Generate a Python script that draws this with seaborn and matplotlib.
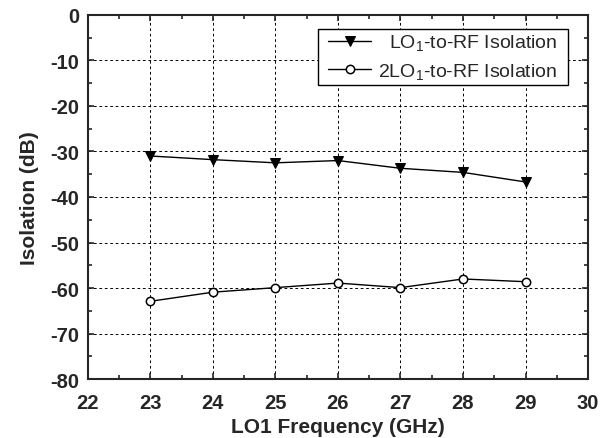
import numpy as np
import pandas as pd
import seaborn as sns
import matplotlib.pyplot as plt
from matplotlib.ticker import MultipleLocator
from matplotlib.offsetbox import DrawingArea

freq = [23, 24, 25, 26, 27, 28, 29]
lo1_rf = [-31.0, -31.8, -32.5, -32.0, -33.7, -34.6, -36.7]
lo2_rf = [-62.9, -60.9, -59.9, -58.9, -59.9, -58.0, -58.6]

sns.set_style("ticks")
plt.rcParams['font.family'] = ['Liberation Sans', 'DejaVu Sans']
plt.rcParams['mathtext.fontset'] = 'custom'
plt.rcParams['mathtext.rm'] = 'Liberation Sans'
plt.rcParams['axes.unicode_minus'] = False

fig = plt.figure(figsize=(6.1, 4.39), dpi=100)
ax = fig.add_axes([0.144, 0.134, 0.820, 0.830])

sns.lineplot(x=freq, y=lo1_rf, ax=ax, color='black', lw=1.0, marker='v',
             markersize=7.5, markeredgecolor='black', markerfacecolor='black',
             label=r'LO$\mathregular{_1}$-to-RF Isolation')
sns.lineplot(x=freq, y=lo2_rf, ax=ax, color='black', lw=1.0, marker='o',
             markersize=6, markeredgecolor='black', markerfacecolor='white',
             markeredgewidth=1.1, label=r'2LO$\mathregular{_1}$-to-RF Isolation')

ax.set_xlim(22, 30)
ax.set_ylim(-80, 0)
ax.xaxis.set_major_locator(MultipleLocator(1))
ax.xaxis.set_minor_locator(MultipleLocator(0.5))
ax.yaxis.set_major_locator(MultipleLocator(10))
ax.yaxis.set_minor_locator(MultipleLocator(5))
ax.tick_params(which='both', direction='in', top=True, right=True, width=1.2)
ax.tick_params(which='major', length=4.5, labelsize=14.5)
ax.tick_params(which='minor', length=3)
ax.tick_params(axis='x', which='major', pad=10)
ax.tick_params(axis='y', which='major', pad=6)
for lab in ax.get_xticklabels() + ax.get_yticklabels():
    lab.set_fontweight('bold')
ax.grid(True, which='major', linestyle=(0, (2.8, 2.8)), color='black', lw=0.7)
for s in ax.spines.values():
    s.set_linewidth(1.5)

ax.set_xlabel('LO1 Frequency (GHz)', fontsize=15, fontweight='bold', labelpad=3.5)
ax.set_ylabel('Isolation (dB)', fontsize=15, fontweight='bold', labelpad=8)

fs = 14
leg = ax.legend(loc='upper right', fontsize=fs, frameon=True, fancybox=False,
                edgecolor='black', handlelength=2.2, handletextpad=0.35,
                borderpad=0.18, labelspacing=0.45, markerscale=1.0,
                columnspacing=0, borderaxespad=0, bbox_to_anchor=(0.959, 0.9615))
leg.get_frame().set_linewidth(1.0)
leg.get_frame().set_alpha(1)
# right-align the shorter first label with the second one
rows = leg._legend_handle_box.get_children()[0].get_children()
rows[0].sep += 0.556 * fs
# extra side padding inside the frame
hb = leg._legend_handle_box
hb._children = [DrawingArea(5, 0)] + list(hb._children) + [DrawingArea(5, 0)]

fig.savefig('out.png', dpi=100)
